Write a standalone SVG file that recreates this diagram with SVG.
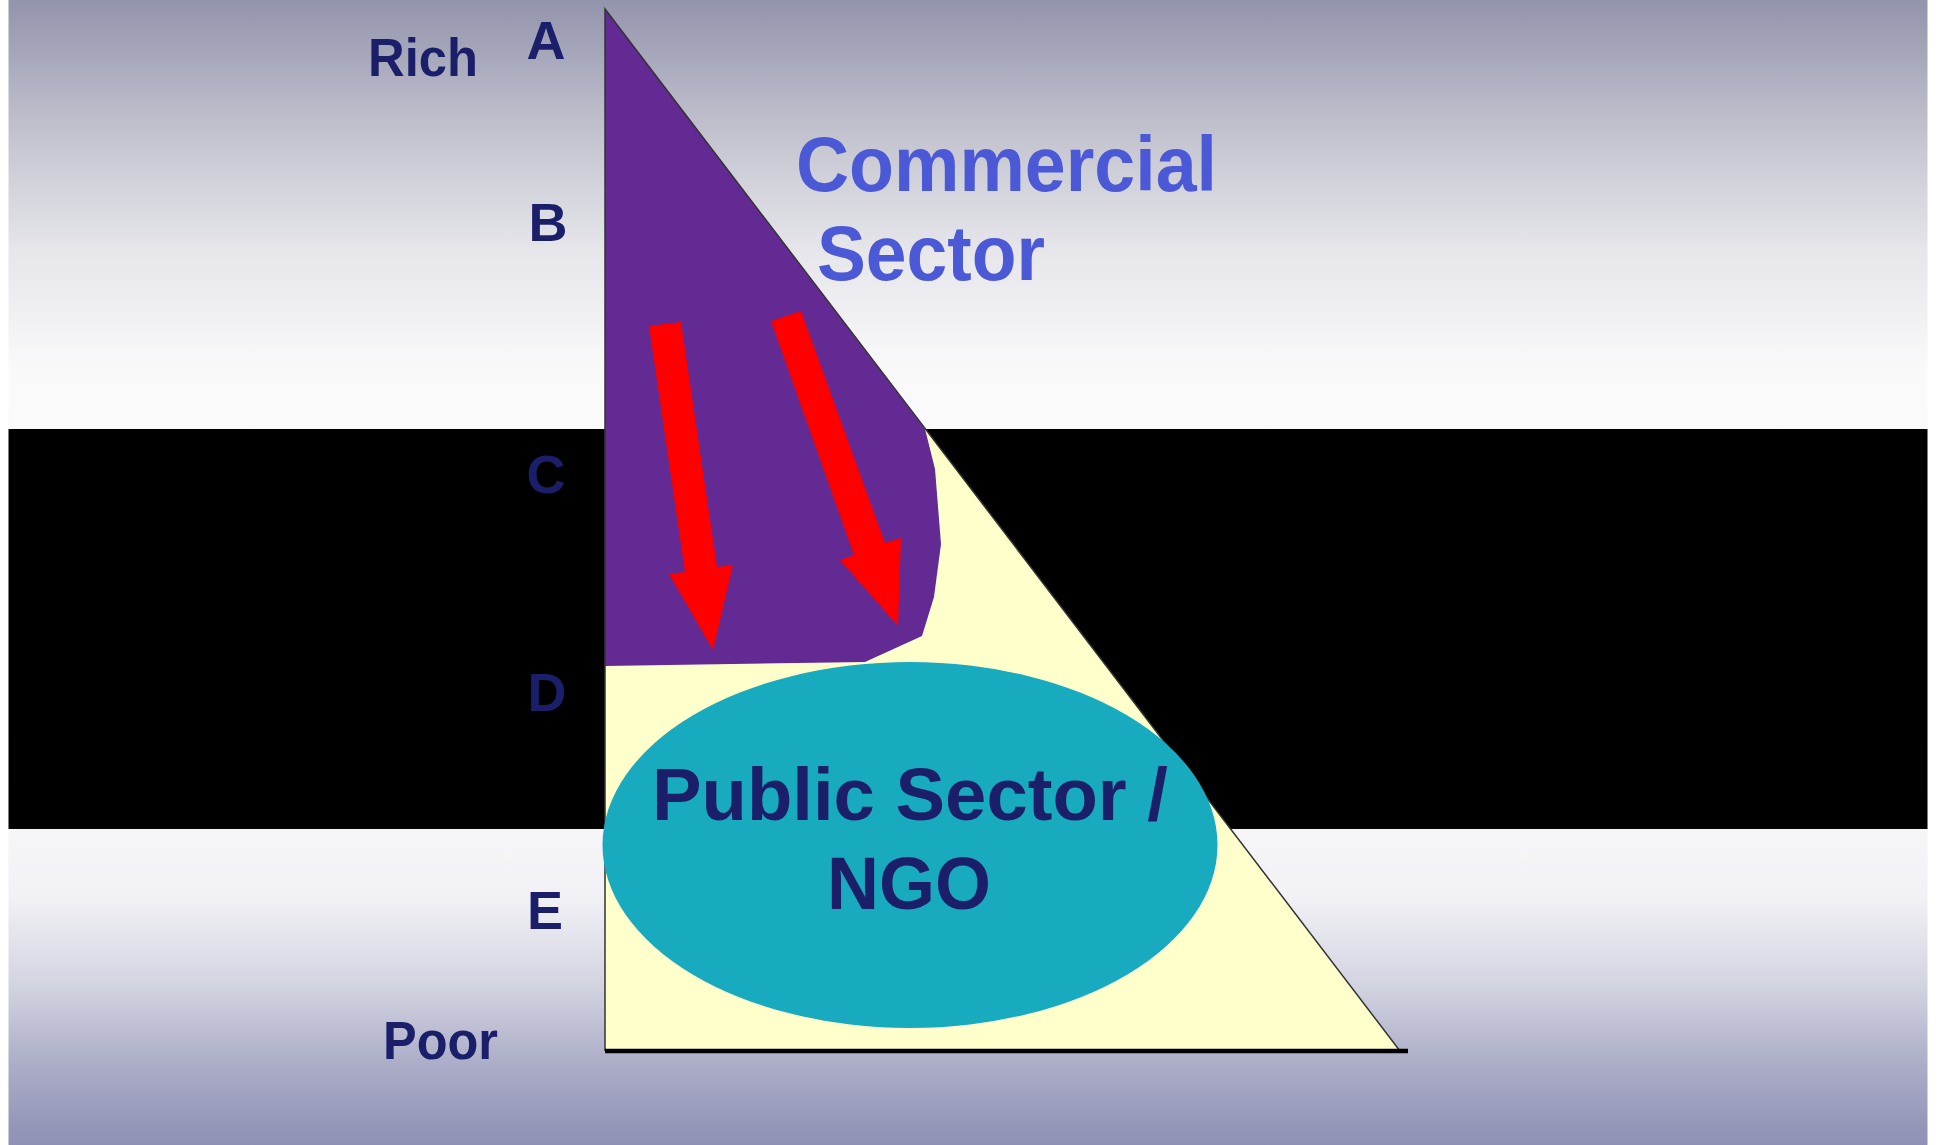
<svg xmlns="http://www.w3.org/2000/svg" width="1937" height="1145" viewBox="0 0 1937 1145">
<defs>
<linearGradient id="bg" x1="0" y1="0" x2="0" y2="1145" gradientUnits="userSpaceOnUse">
<stop offset="0" stop-color="#9394AD"/>
<stop offset="0.13" stop-color="#C8C8D3"/>
<stop offset="0.22" stop-color="#E6E6EB"/>
<stop offset="0.32" stop-color="#F9F9FA"/>
<stop offset="0.6" stop-color="#FFFFFF"/>
<stop offset="0.78" stop-color="#F2F2F6"/>
<stop offset="0.86" stop-color="#D3D4E1"/>
<stop offset="0.93" stop-color="#ABADC8"/>
<stop offset="1" stop-color="#8E90B5"/>
</linearGradient>
<style>
.lbl{font-family:"Liberation Sans",Arial,sans-serif;font-weight:bold;fill:#1B1F6A;}
.side{font-size:54px;}
.letter{font-size:54px;text-anchor:middle;}
.comm{font-family:"Liberation Sans",Arial,sans-serif;font-weight:bold;font-size:77px;fill:#4B59D6;}
.pub{font-size:75px;text-anchor:middle;}
.arrow{fill:#FF0000;}
</style>
</defs>
<rect x="0" y="0" width="1937" height="1145" fill="#FFFFFF"/>
<rect id="background" x="8.5" y="0" width="1919" height="1145" fill="url(#bg)"/>
<rect id="band" x="8.5" y="429" width="1919" height="400" fill="#000000"/>

<g id="pyramid">
<polygon points="605,9 1400,1051 605,1051" fill="#FFFFCC"/>
</g>
<g id="commercial-area">
<polygon points="605,9 925,429 935,469 941,544 934,597 922,636 865,662 605,666" fill="#622A92"/>
</g>
<g id="pyramid-outline">
<polyline points="605,1051 605,9 1400,1051" fill="none" stroke="#333333" stroke-width="1.5"/>
<line x1="605" y1="1051" x2="1408" y2="1051" stroke="#000000" stroke-width="4.5"/>
</g>
<g id="public-sector">
<ellipse cx="910" cy="845" rx="307.5" ry="183" fill="#18ABBF"/>
<text class="lbl pub" x="910" y="820" textLength="516" lengthAdjust="spacingAndGlyphs">Public Sector /</text>
<text class="lbl pub" x="909" y="909" textLength="164" lengthAdjust="spacingAndGlyphs">NGO</text>
</g>
<g id="connectors">
<polygon class="arrow" points="649,326 681,322 717,567 733,565 713,650 669,574 685,572"/>
<polygon class="arrow" points="771,321 801,311 885,543 901,538 898,626 840,560 854,555"/>
</g>
<g id="commercial-label">
<text class="comm" x="796" y="191" textLength="421" lengthAdjust="spacingAndGlyphs">Commercial</text>
<text class="comm" x="817" y="280" textLength="228" lengthAdjust="spacingAndGlyphs">Sector</text>
</g>
<g id="axis-labels">
<text class="lbl side" x="368" y="76" textLength="110" lengthAdjust="spacingAndGlyphs">Rich</text>
<text class="lbl side" x="383" y="1059" textLength="115" lengthAdjust="spacingAndGlyphs">Poor</text>
</g>
<g id="levels">
<text class="lbl letter" x="546" y="59">A</text>
<text class="lbl letter" x="548" y="241">B</text>
<text class="lbl letter" x="546" y="493">C</text>
<text class="lbl letter" x="547" y="711">D</text>
<text class="lbl letter" x="545" y="929">E</text>
</g>
</svg>
